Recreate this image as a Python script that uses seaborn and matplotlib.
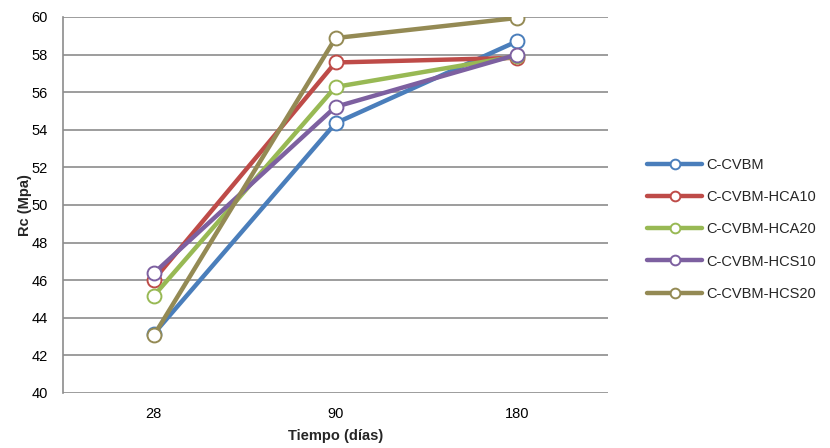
import matplotlib
matplotlib.use("Agg")
import matplotlib.pyplot as plt
import seaborn as sns
import pandas as pd
from matplotlib.lines import Line2D

# Compressive strength (MPa) at each curing age
dias = ["28", "90", "180"]
series = ["C-CVBM", "C-CVBM-HCA10", "C-CVBM-HCA20", "C-CVBM-HCS10", "C-CVBM-HCS20"]
c_cvbm = [43.15, 54.35, 58.71]
c_cvbm_hca10 = [46.02, 57.58, 57.83]
c_cvbm_hca20 = [45.17, 56.28, 57.92]
c_cvbm_hcs10 = [46.37, 55.22, 58.0]
c_cvbm_hcs20 = [43.06, 58.88, 59.95]
colores = ["#4A7EBB", "#BE4B48", "#98B954", "#7D60A0", "#948A54"]

valores = [c_cvbm, c_cvbm_hca10, c_cvbm_hca20, c_cvbm_hcs10, c_cvbm_hcs20]
df = pd.DataFrame(
    [(d, s, v) for s, vals in zip(series, valores) for d, v in zip(dias, vals)],
    columns=["Tiempo", "Serie", "Rc"],
)

sns.set_style("white")
plt.rcParams["font.family"] = ["Liberation Sans", "DejaVu Sans"]

fig = plt.figure(figsize=(8.3, 4.48), dpi=100)
ax = fig.add_axes([63 / 830, 1 - 393 / 448, (608 - 63) / 830, (393 - 17) / 448])

sns.lineplot(
    data=df, x="Tiempo", y="Rc", hue="Serie", hue_order=series,
    palette=colores, linewidth=3.2, marker="o", markersize=10,
    markerfacecolor="white", markeredgewidth=1.4, sort=False, ax=ax,
    legend=False,
)
# colour each series' marker edges to its line
for line, c in zip(ax.get_lines(), colores):
    line.set_markeredgecolor(c)
    line.set_solid_capstyle("round")

ax.set_xlim(-0.5, 2.5)
ax.set_ylim(40, 60)
ax.set_yticks(range(40, 61, 2))
ax.yaxis.grid(True, color="#8C8C8C", linewidth=1.2)
ax.set_axisbelow(True)
for side in ["top", "right", "bottom"]:
    ax.spines[side].set_visible(False)
ax.spines["left"].set_color("#8C8C8C")
ax.spines["left"].set_linewidth(1.2)
ax.tick_params(axis="both", length=0, labelsize=10.5, colors="black")
ax.tick_params(axis="y", pad=11)
ax.tick_params(axis="x", pad=10)
ax.set_xlabel("Tiempo (días)", fontsize=10.5, fontweight="bold")
ax.set_ylabel("Rc (Mpa)", fontsize=10.5, fontweight="bold")
ax.yaxis.set_label_coords(-0.056, 0.5)
ax.xaxis.set_label_coords(0.5, -0.097)

handles = [
    Line2D([], [], color=c, linewidth=3.2, marker="o", markersize=7,
           markerfacecolor="white", markeredgecolor=c, markeredgewidth=1.4,
           solid_capstyle="round")
    for c in colores
]
fig.legend(
    handles, series, loc="upper left", bbox_to_anchor=(641 / 830, 1 - 152 / 448),
    frameon=False, fontsize=10.5, handlelength=3.8, handletextpad=0.3,
    labelspacing=1.25, borderaxespad=0,
)

fig.savefig("out.png", dpi=100)
